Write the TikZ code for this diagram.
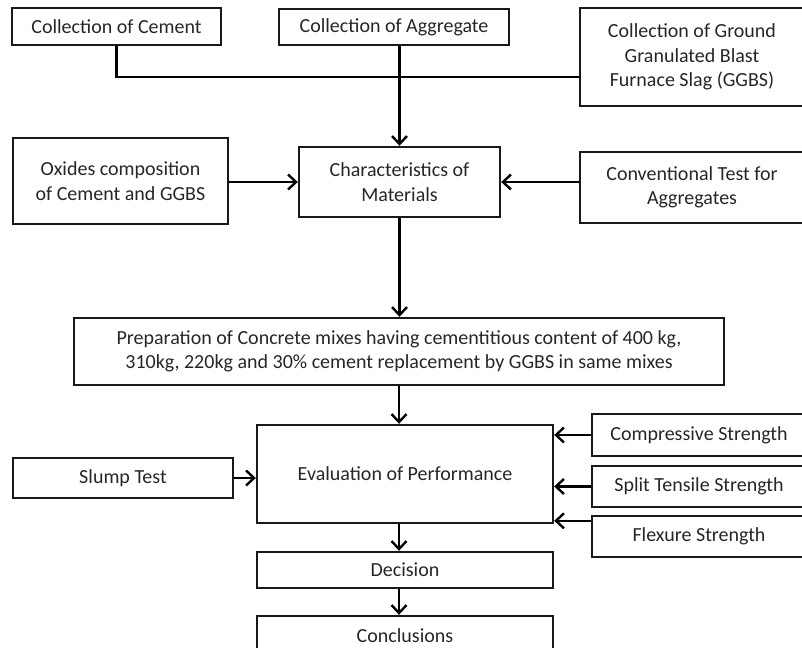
\documentclass[tikz,border=0pt]{standalone}
\usepackage{fontspec}
\setmainfont{Carlito}
\usepackage{tikz}
\usetikzlibrary{arrows.meta}

\begin{document}
\begin{tikzpicture}[x=1pt, y=-1pt,
  box/.style={draw=black!90, line width=2.4pt, align=center, inner sep=0pt,
    text=black!85, font=\fontsize{20}{24.5}\selectfont},
  >={Straight Barb[length=8pt, width=15pt]}, line width=2.4pt]
  \useasboundingbox (0,0) rectangle (802,647);
  \clip (0,0) rectangle (802,647);
  % first row
  \node[box, minimum width=209, minimum height=37] (cement) at (116.5,26.5) {Collection of Cement};
  \node[box, minimum width=230, minimum height=36] (aggr) at (394,27) {Collection of Aggregate};
  \node[box, minimum width=224, minimum height=98] (ggbs) at (692,57)
    {Collection of Ground\\Granulated Blast\\Furnace Slag (GGBS)};
  % materials
  \node[box, minimum width=215, minimum height=86] (oxides) at (120.5,181) {Oxides composition\\of Cement and GGBS};
  \node[box, minimum width=201, minimum height=70] (char) at (399.5,182) {Characteristics of\\Materials};
  \node[box, minimum width=224, minimum height=71] (conv) at (692,187.5) {Conventional Test for\\Aggregates};
  \node[box, minimum width=650, minimum height=67] (prep) at (399,351.5)
    {Preparation of Concrete mixes having cementitious content of 400 kg,\\
     310kg, 220kg and 30\% cement replacement by GGBS in same mixes};
  % tests
  \node[box, minimum width=296, minimum height=98] (eval) at (405,474) {Evaluation of Performance};
  \node[box, minimum width=220, minimum height=40] (slump) at (123,478) {Slump Test};
  \node[box, minimum width=214, minimum height=42] (comp) at (699,435) {Compressive Strength};
  \node[box, minimum width=214, minimum height=41] (split) at (699,486.5) {Split Tensile Strength};
  \node[box, minimum width=214, minimum height=41] (flex) at (699,536.5) {Flexure Strength};
  \node[box, minimum width=296, minimum height=36] (dec) at (405,570) {Decision};
  \node[box, minimum width=296, minimum height=40] (concl) at (405,636) {Conclusions};

  \coordinate (join) at (399,77);
  \draw (cement.south) |- (ggbs.west |- join);
  \draw[->] (char.north |- aggr.south) -- (char.north);
  \draw[->] (oxides.east |- char.west) -- (char.west);
  \draw[->] (conv.west |- char.east) -- (char.east);
  \draw[->] (char.south) -- (char.south |- prep.north);
  \draw[->] (prep.south) -- (prep.south |- eval.north);
  \draw[->] (slump.east) -- (slump.east -| eval.west);
  \draw[->] (comp.west) -- (comp.west -| eval.east);
  \draw[->] (split.west) -- (split.west -| eval.east);
  \coordinate (fl) at ([yshift=-6pt]flex.north west);
  \draw[->] (fl) -- (fl -| eval.east);
  \draw[->] (prep.south |- eval.south) -- (prep.south |- dec.north);
  \draw[->] (prep.south |- dec.south) -- (prep.south |- concl.north);
\end{tikzpicture}
\end{document}
